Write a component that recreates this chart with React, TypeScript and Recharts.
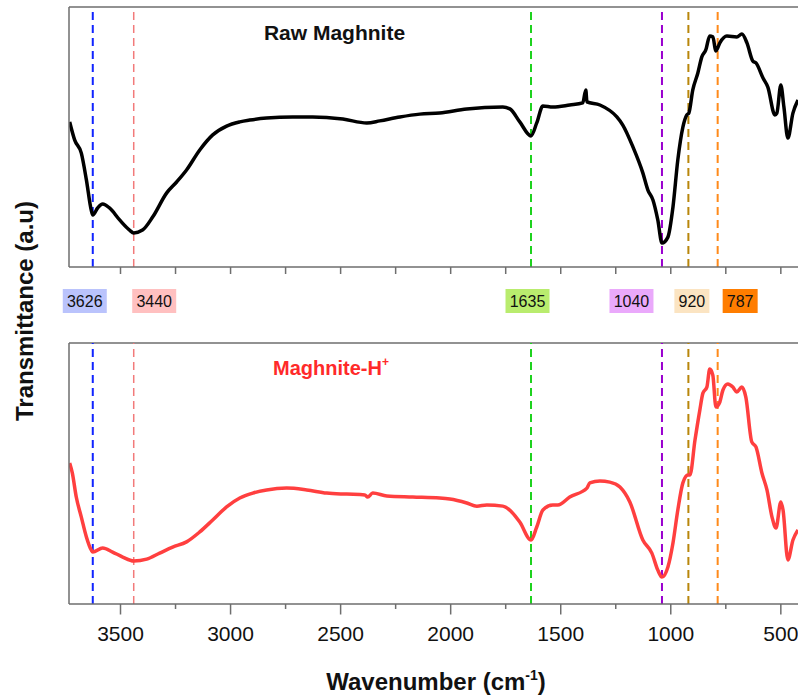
import React from "react"
import { Line, LineChart, ReferenceLine, XAxis, YAxis } from "recharts"

// Raw Maghnite, black trace (wavenumber cm-1, transmittance a.u.)
const rawWavenumber = [3731, 3708, 3678, 3655, 3633, 3626, 3604, 3581, 3550, 3504, 3459, 3440, 3400, 3354, 3290, 3245, 3200, 3140, 3081, 3018, 2958, 2913, 2836, 2718, 2627, 2490, 2381, 2322, 2231, 2140, 2050, 1927, 1763, 1731, 1686, 1635, 1609, 1581, 1536, 1459, 1400, 1386, 1381, 1322, 1245, 1218, 1172, 1127, 1104, 1081, 1059, 1040, 1013, 990, 968, 945, 927, 918, 900, 877, 859, 841, 823, 809, 795, 777, 745, 700, 677, 654, 627, 613, 581, 559, 527, 518, 500, 486, 468, 445, 422]
const rawTransmittance = [55.8, 48.8, 43.8, 33.5, 21.9, 20.0, 22.7, 24.2, 22.7, 18.1, 14.2, 13.1, 14.2, 19.2, 28.5, 32.7, 37.3, 45.0, 50.8, 54.2, 55.8, 56.5, 57.3, 57.7, 57.7, 56.9, 55.4, 56.2, 57.7, 58.8, 59.2, 60.8, 61.5, 60.8, 55.8, 50.4, 55.4, 61.9, 61.5, 62.3, 63.1, 68.1, 63.5, 62.3, 57.7, 54.6, 46.2, 36.2, 29.6, 25.8, 18.1, 9.2, 11.5, 23.1, 41.2, 53.8, 58.5, 59.2, 68.1, 74.6, 80.8, 83.5, 88.8, 88.5, 83.1, 86.2, 88.8, 88.5, 89.6, 86.2, 79.2, 78.5, 72.7, 69.2, 58.5, 59.2, 70.0, 61.5, 49.6, 59.2, 64.2]

// Maghnite-H+, red trace
const hWavenumber = [3731, 3719, 3701, 3678, 3655, 3633, 3626, 3581, 3536, 3490, 3440, 3381, 3322, 3263, 3200, 3140, 3081, 3018, 2958, 2899, 2836, 2745, 2654, 2563, 2472, 2390, 2377, 2354, 2290, 2172, 2050, 2004, 1927, 1881, 1836, 1763, 1722, 1686, 1635, 1609, 1581, 1536, 1513, 1459, 1381, 1368, 1322, 1277, 1231, 1186, 1127, 1086, 1059, 1040, 1013, 990, 968, 945, 922, 913, 890, 868, 854, 836, 823, 809, 795, 777, 763, 741, 718, 700, 677, 659, 632, 613, 586, 563, 540, 522, 500, 490, 468, 445, 422]
const hTransmittance = [54.0, 50.2, 41.0, 33.3, 25.7, 20.7, 19.9, 21.5, 19.9, 18.0, 16.5, 17.2, 19.5, 21.8, 23.8, 27.6, 32.2, 37.2, 40.6, 42.5, 43.7, 44.4, 43.7, 42.5, 42.1, 41.8, 41.0, 42.5, 41.4, 41.0, 40.6, 40.2, 38.7, 37.5, 37.9, 37.5, 35.2, 31.4, 24.5, 29.5, 36.0, 37.9, 37.9, 41.0, 44.4, 46.4, 47.1, 46.7, 44.8, 39.1, 24.5, 19.5, 13.0, 10.3, 14.2, 23.4, 36.0, 46.4, 49.4, 49.4, 62.8, 74.3, 80.8, 83.1, 90.0, 87.7, 75.5, 77.4, 82.0, 84.3, 83.1, 81.2, 83.1, 79.3, 62.1, 60.2, 50.2, 43.7, 33.3, 29.1, 39.1, 36.0, 16.9, 24.5, 28.4]

// marked bands
const peakWavenumber = [3626, 3440, 1635, 1040, 920, 787]
const peakLabels = ["3626", "3440", "1635", "1040", "920", "787"]

const majorTicks = [3500, 3000, 2500, 2000, 1500, 1000, 500]
const minorTicks = [3250, 2750, 2250, 1750, 1250, 750]

// styles
const FONT = "'Liberation Sans', Arial, Helvetica, sans-serif"
const AXIS = "#6e6e6e"
const LINE_COLORS = ["#1024ff", "#f27a7a", "#1ed21e", "#9a00cf", "#b8860b", "#ff8a1a"]
const LINE_WIDTHS = [2, 1.5, 2, 2, 2, 2]
const BOX_FILLS = ["#bac3fc", "#ffc0c0", "#b9ec6e", "#eaa9fb", "#fbe4c2", "#ff7d00"]
// box centre relative to its dashed line (px), hand placed so the boxes don't overlap
const BOX_SHIFT = [-8, 20.5, -3.5, -30.5, 3.5, 22.5]
const X_DOMAIN: [number, number] = [422, 3734]

const rawData = rawWavenumber.map((wn, i) => ({ wn, t: rawTransmittance[i] }))
const hData = hWavenumber.map((wn, i) => ({ wn, t: hTransmittance[i] }))
const allTicks = [...majorTicks, ...minorTicks].sort((a, b) => b - a)

function TopTick(props: any) {
  const { x, y } = props
  return <line x1={x} x2={x} y1={y} y2={y + 7} stroke={AXIS} strokeWidth={1.5} />
}

function BottomTick(props: any) {
  const { x, y, payload } = props
  const major = majorTicks.includes(payload.value)
  return (
    <g>
      <line x1={x} x2={x} y1={y} y2={y + (major ? 10.5 : 5)} stroke={AXIS} strokeWidth={1.5} />
      {major && (
        <text x={x} y={y + 37} textAnchor="middle" fontSize={21} fontFamily={FONT} fill="#111">
          {payload.value}
        </text>
      )}
    </g>
  )
}

const peakBox = (i: number) => (p: any) => {
  const vb = p.viewBox
  if (!vb) return null
  const label = peakLabels[i]
  const w = label.length * 9 + 8
  const cx = vb.x + BOX_SHIFT[i]
  const top = vb.y + vb.height + 22
  return (
    <g>
      <rect x={cx - w / 2} y={top} width={w} height={24} fill={BOX_FILLS[i]} />
      <text x={cx} y={top + 18} textAnchor="middle" fontSize={16} fontFamily={FONT} fill="#111">
        {label}
      </text>
    </g>
  )
}

function XTitle(p: any) {
  const vb = p.viewBox
  if (!vb) return null
  return (
    <text x={vb.x + vb.width / 2 + 2.5} y={vb.y + 86} textAnchor="middle" fontSize={24} fontWeight="bold" fontFamily={FONT} fill="#111">
      Wavenumber (cm
      <tspan fontSize={14} dy={-10}>-1</tspan>
      <tspan dy={10}>)</tspan>
    </text>
  )
}

function peakLines(withBoxes: boolean) {
  return peakWavenumber.map((wn, i) => (
    <ReferenceLine
      key={wn}
      x={wn}
      stroke={LINE_COLORS[i]}
      strokeWidth={LINE_WIDTHS[i]}
      strokeDasharray="8 5"
      label={withBoxes ? peakBox(i) : undefined}
    />
  ))
}

export default function App() {
  return (
    <div style={{ position: "absolute", left: 0, top: 0, width: 798, height: 697, overflow: "hidden", background: "#fff" }}>
      <div style={{ position: "absolute", left: 0, top: 0 }}>
        <LineChart width={798} height={330} data={rawData} margin={{ top: 7, right: 0, bottom: 0, left: 0 }}>
          <XAxis
            dataKey="wn"
            type="number"
            domain={X_DOMAIN}
            reversed
            allowDataOverflow
            ticks={allTicks}
            interval={0}
            tickLine={false}
            tickSize={0}
            tickMargin={0}
            height={63}
            axisLine={{ stroke: AXIS, strokeWidth: 1.5 }}
            tick={TopTick}
          />
          <YAxis type="number" domain={[0, 100]} width={69} tick={false} tickLine={false} axisLine={{ stroke: AXIS, strokeWidth: 1.5 }} />
          <ReferenceLine y={100} stroke={AXIS} strokeWidth={1.5} />
          {peakLines(true)}
          <Line dataKey="t" type="monotone" stroke="#000" strokeWidth={3.5} dot={false} isAnimationActive={false} />
        </LineChart>
      </div>
      <div style={{ position: "absolute", left: 0, top: 330 }}>
        <LineChart width={798} height={367} data={hData} margin={{ top: 13, right: 0, bottom: 0, left: 0 }}>
          <XAxis
            dataKey="wn"
            type="number"
            domain={X_DOMAIN}
            reversed
            allowDataOverflow
            ticks={allTicks}
            interval={0}
            tickLine={false}
            tickSize={0}
            tickMargin={0}
            height={93}
            axisLine={{ stroke: AXIS, strokeWidth: 1.5 }}
            tick={BottomTick}
            label={{ content: XTitle }}
          />
          <YAxis type="number" domain={[0, 100]} width={69} tick={false} tickLine={false} axisLine={{ stroke: AXIS, strokeWidth: 1.5 }} />
          <ReferenceLine y={100} stroke={AXIS} strokeWidth={1.5} />
          {peakLines(false)}
          <Line dataKey="t" type="monotone" stroke="#ff3f3f" strokeWidth={3.5} dot={false} isAnimationActive={false} />
        </LineChart>
      </div>
      <svg width={798} height={697} style={{ position: "absolute", left: 0, top: 0, pointerEvents: "none" }}>
        <text x={33} y={311} transform="rotate(-90 33 311)" textAnchor="middle" fontSize={24} fontWeight="bold" fontFamily={FONT} fill="#111">
          Transmittance (a.u)
        </text>
        <text x={334.5} y={40} textAnchor="middle" fontSize={21} fontWeight="bold" fontFamily={FONT} fill="#111">
          Raw Maghnite
        </text>
        <text x={273} y={375} fontSize={20} fontWeight="bold" fontFamily={FONT} fill="#ff2a2a">
          Maghnite-H<tspan fontSize={12} dy={-9}>+</tspan>
        </text>
      </svg>
    </div>
  )
}
